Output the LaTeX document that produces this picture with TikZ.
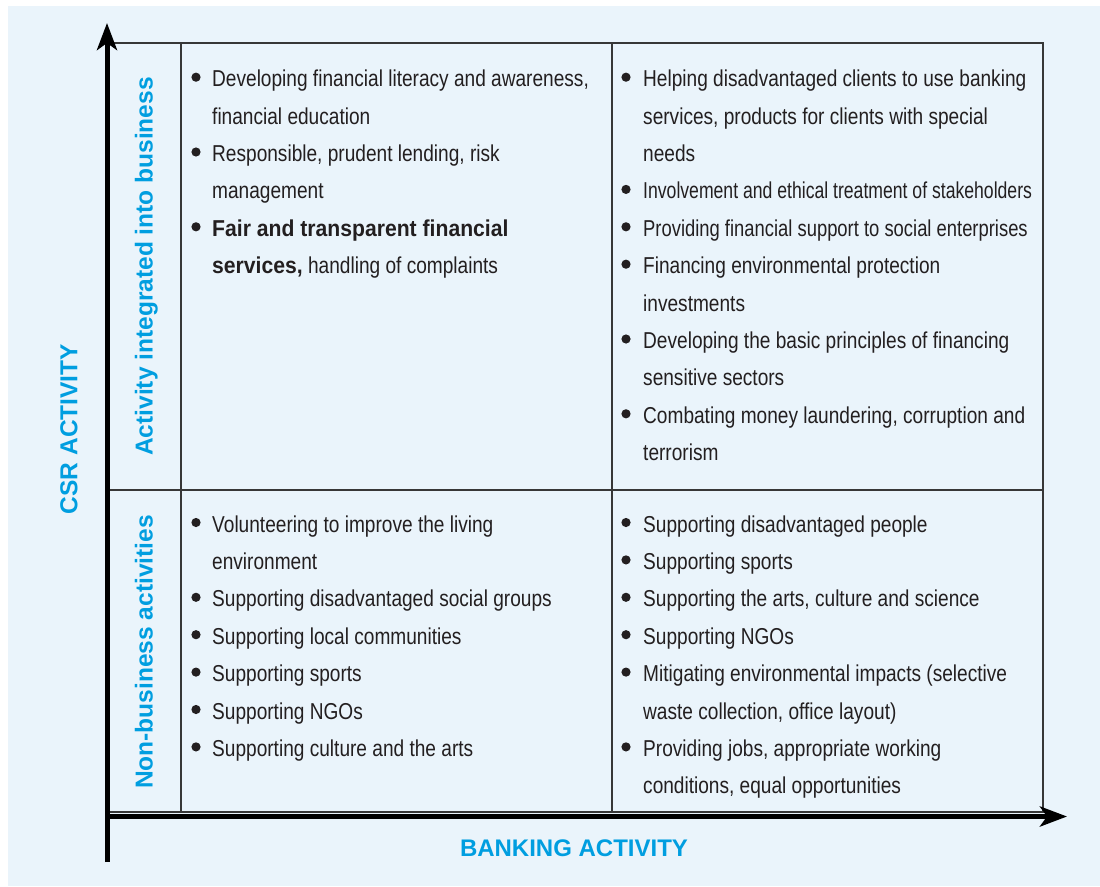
\documentclass[tikz,border=0pt]{standalone}
\usepackage{fontspec}
\setmainfont{Liberation Sans}[FakeStretch=0.83]
\newfontfamily\labfont{Liberation Sans}
\newfontfamily\boldfont{Liberation Sans Bold}[FakeStretch=0.92]
\newfontfamily\narrowA{Liberation Sans}[FakeStretch=0.766]
\newfontfamily\narrowB{Liberation Sans}[FakeStretch=0.80]
\usetikzlibrary{arrows.meta}
\definecolor{bgc}{RGB}{234,244,251}
\definecolor{labc}{RGB}{0,158,224}
\definecolor{txtc}{RGB}{35,31,32}
\definecolor{gridc}{RGB}{55,55,55}
\begin{document}
\begin{tikzpicture}[x=1pt,y=-1pt,
  txt/.style={anchor=base west,inner sep=0pt,text=txtc,font=\fontsize{23}{28}\selectfont},
  lab/.style={text=labc,inner sep=0pt,font=\labfont\bfseries\fontsize{24.5}{28}\selectfont},
  gridline/.style={draw=gridc,line width=1.2pt},
  axisline/.style={draw=black,line width=5pt,-{Stealth[length=27pt,width=20pt,inset=7pt]}},
  bul/.style={fill=txtc}]
\useasboundingbox (0,0) rectangle (1100,886);
\fill[bgc] (8,6) rectangle (1100,886);
% grid
\draw[gridline] (107,43) rectangle (1043,812);
\draw[gridline] (181,43) -- (181,812);
\draw[gridline] (612,43) -- (612,812);
\draw[gridline] (107,490) -- (1043,490);
% axes
\coordinate (vb) at (107,862);
\coordinate (vt) at (107,23);
\coordinate (hb) at (105,816.5);
\coordinate (ht) at (1067,816.5);
\draw[axisline] (vb) -- (vt);
\draw[axisline] (hb) -- (ht);
% axis labels
\node[lab,font=\labfont\bfseries\fontsize{24}{28}\selectfont,anchor=base] (xl) at (574,856.7) {BANKING ACTIVITY};
\node[lab,font=\labfont\bfseries\fontsize{24.5}{28}\selectfont,rotate=90,anchor=base] (yl) at (77.3,429) {CSR ACTIVITY};
\node[lab,rotate=90,anchor=base] (r1) at (152.5,266.5) {Activity integrated into business};
\node[lab,rotate=90,anchor=base] (r2) at (152.5,652) {Non-business activities};
% top-left
\foreach \b in {86.7,161.5,236.3} \fill[bul] (196,\b-9.5) circle [radius=4.6pt];
\node[txt] (tl1) at (212,86.7) {Developing financial literacy and awareness,};
\node[txt] (tl2) at (212,124.1) {financial education};
\node[txt] (tl3) at (212,161.5) {Responsible, prudent lending, risk};
\node[txt] (tl4) at (212,198.9) {management};
\node[txt] (tl5) at (212,236.3) {\boldfont Fair and transparent financial};
\node[txt] (tl6) at (212,273.7) {{\boldfont services,} handling of complaints};
% top-right
\foreach \b in {86.7,198.9,236.3,273.7,348.5,423.3} \fill[bul] (626,\b-9.5) circle [radius=4.6pt];
\node[txt] (tr1) at (643,86.7) {Helping disadvantaged clients to use banking};
\node[txt] (tr2) at (643,124.1) {services, products for clients with special};
\node[txt] (tr3) at (643,161.5) {needs};
\node[txt] (tr4) at (643,198.9) {\narrowA Involvement and ethical treatment of stakeholders};
\node[txt] (tr5) at (643,236.3) {\narrowB Providing financial support to social enterprises};
\node[txt] (tr6) at (643,273.7) {Financing environmental protection};
\node[txt] (tr7) at (643,311.1) {investments};
\node[txt] (tr8) at (643,348.5) {Developing the basic principles of financing};
\node[txt] (tr9) at (643,385.9) {sensitive sectors};
\node[txt] (tr10) at (643,423.3) {Combating money laundering, corruption and};
\node[txt] (tr11) at (643,460.7) {terrorism};
% bottom-left
\foreach \b in {532,606.8,644.2,681.6,719,756.4} \fill[bul] (196,\b-9.5) circle [radius=4.6pt];
\node[txt] (bl1) at (212,532) {Volunteering to improve the living};
\node[txt] (bl2) at (212,569.4) {environment};
\node[txt] (bl3) at (212,606.8) {Supporting disadvantaged social groups};
\node[txt] (bl4) at (212,644.2) {Supporting local communities};
\node[txt] (bl5) at (212,681.6) {Supporting sports};
\node[txt] (bl6) at (212,719) {Supporting NGOs};
\node[txt] (bl7) at (212,756.4) {Supporting culture and the arts};
% bottom-right
\foreach \b in {532,569.4,606.8,644.2,681.6,756.4} \fill[bul] (626,\b-9.5) circle [radius=4.6pt];
\node[txt] (br1) at (643,532) {Supporting disadvantaged people};
\node[txt] (br2) at (643,569.4) {Supporting sports};
\node[txt] (br3) at (643,606.8) {Supporting the arts, culture and science};
\node[txt] (br4) at (643,644.2) {Supporting NGOs};
\node[txt] (br5) at (643,681.6) {Mitigating environmental impacts (selective};
\node[txt] (br6) at (643,719) {waste collection, office layout)};
\node[txt] (br7) at (643,756.4) {Providing jobs, appropriate working};
\node[txt] (br8) at (643,793.8) {conditions, equal opportunities};
\end{tikzpicture}
\end{document}
